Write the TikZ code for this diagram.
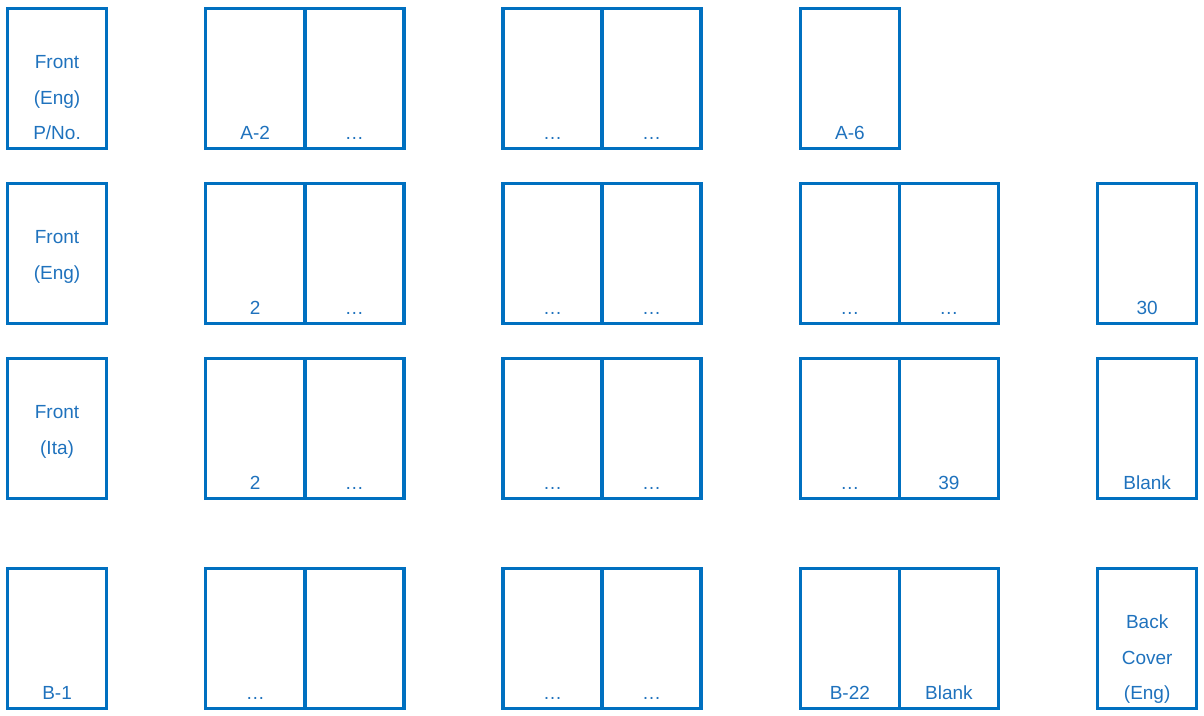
\documentclass[tikz,border=0pt]{standalone}
\usepackage{fontspec}
\setmainfont{Liberation Sans}
\definecolor{boxblue}{HTML}{0070C0}
\definecolor{txtblue}{HTML}{1F72BD}
\begin{document}
\begin{tikzpicture}[x=1pt,y=-1pt,
  pgbox/.style={draw=boxblue,line width=3.5pt,minimum width=99.1pt,minimum height=140pt,inner sep=0pt,outer sep=0pt},
  lab/.style={text=txtblue,font=\fontsize{19}{22}\selectfont,anchor=base,inner sep=0pt}]
\useasboundingbox (0,0) rectangle (1204,715);
% row 1
\node[pgbox] (r1a) at (57.05,78.5) {};
\node[pgbox] (r1b) at (255.25,78.5) {};
\node[pgbox] (r1c) at (354.35,78.5) {};
\node[pgbox] (r1d) at (552.55,78.5) {};
\node[pgbox] (r1e) at (651.65,78.5) {};
\node[pgbox] (r1f) at (849.85,78.5) {};
% row 2
\node[pgbox] (r2a) at (57.05,253.5) {};
\node[pgbox] (r2b) at (255.25,253.5) {};
\node[pgbox] (r2c) at (354.35,253.5) {};
\node[pgbox] (r2d) at (552.55,253.5) {};
\node[pgbox] (r2e) at (651.65,253.5) {};
\node[pgbox] (r2f) at (849.85,253.5) {};
\node[pgbox] (r2g) at (948.95,253.5) {};
\node[pgbox] (r2h) at (1147.15,253.5) {};
% row 3
\node[pgbox] (r3a) at (57.05,428.5) {};
\node[pgbox] (r3b) at (255.25,428.5) {};
\node[pgbox] (r3c) at (354.35,428.5) {};
\node[pgbox] (r3d) at (552.55,428.5) {};
\node[pgbox] (r3e) at (651.65,428.5) {};
\node[pgbox] (r3f) at (849.85,428.5) {};
\node[pgbox] (r3g) at (948.95,428.5) {};
\node[pgbox] (r3h) at (1147.15,428.5) {};
% row 4
\node[pgbox] (r4a) at (57.05,638.5) {};
\node[pgbox] (r4b) at (255.25,638.5) {};
\node[pgbox] (r4c) at (354.35,638.5) {};
\node[pgbox] (r4d) at (552.55,638.5) {};
\node[pgbox] (r4e) at (651.65,638.5) {};
\node[pgbox] (r4f) at (849.85,638.5) {};
\node[pgbox] (r4g) at (948.95,638.5) {};
\node[pgbox] (r4h) at (1147.15,638.5) {};
% labels row 1
\node[lab] (t1a1) at ([yshift=80pt]r1a.south) {Front};
\node[lab] (t1a2) at ([yshift=44pt]r1a.south) {(Eng)};
\node[lab] (t1a3) at ([yshift=9.5pt]r1a.south) {P/No.};
\node[lab] (t1b) at ([yshift=9.5pt]r1b.south) {A-2};
\node[lab] (t1c) at ([yshift=9.5pt]r1c.south) {…};
\node[lab] (t1d) at ([yshift=9.5pt]r1d.south) {…};
\node[lab] (t1e) at ([yshift=9.5pt]r1e.south) {…};
\node[lab] (t1f) at ([yshift=9.5pt]r1f.south) {A-6};
% labels row 2
\node[lab] (t2a1) at ([yshift=80pt]r2a.south) {Front};
\node[lab] (t2a2) at ([yshift=44pt]r2a.south) {(Eng)};
\node[lab] (t2b) at ([yshift=9.5pt]r2b.south) {2};
\node[lab] (t2c) at ([yshift=9.5pt]r2c.south) {…};
\node[lab] (t2d) at ([yshift=9.5pt]r2d.south) {…};
\node[lab] (t2e) at ([yshift=9.5pt]r2e.south) {…};
\node[lab] (t2f) at ([yshift=9.5pt]r2f.south) {…};
\node[lab] (t2g) at ([yshift=9.5pt]r2g.south) {…};
\node[lab] (t2h) at ([yshift=9.5pt]r2h.south) {30};
% labels row 3
\node[lab] (t3a1) at ([yshift=80pt]r3a.south) {Front};
\node[lab] (t3a2) at ([yshift=44pt]r3a.south) {(Ita)};
\node[lab] (t3b) at ([yshift=9.5pt]r3b.south) {2};
\node[lab] (t3c) at ([yshift=9.5pt]r3c.south) {…};
\node[lab] (t3d) at ([yshift=9.5pt]r3d.south) {…};
\node[lab] (t3e) at ([yshift=9.5pt]r3e.south) {…};
\node[lab] (t3f) at ([yshift=9.5pt]r3f.south) {…};
\node[lab] (t3g) at ([yshift=9.5pt]r3g.south) {39};
\node[lab] (t3h) at ([yshift=9.5pt]r3h.south) {Blank};
% labels row 4
\node[lab] (t4a) at ([yshift=9.5pt]r4a.south) {B-1};
\node[lab] (t4b) at ([yshift=9.5pt]r4b.south) {…};
\node[lab] (t4d) at ([yshift=9.5pt]r4d.south) {…};
\node[lab] (t4e) at ([yshift=9.5pt]r4e.south) {…};
\node[lab] (t4f) at ([yshift=9.5pt]r4f.south) {B-22};
\node[lab] (t4g) at ([yshift=9.5pt]r4g.south) {Blank};
\node[lab] (t4h1) at ([yshift=80pt]r4h.south) {Back};
\node[lab] (t4h2) at ([yshift=44pt]r4h.south) {Cover};
\node[lab] (t4h3) at ([yshift=9.5pt]r4h.south) {(Eng)};
\end{tikzpicture}
\end{document}
